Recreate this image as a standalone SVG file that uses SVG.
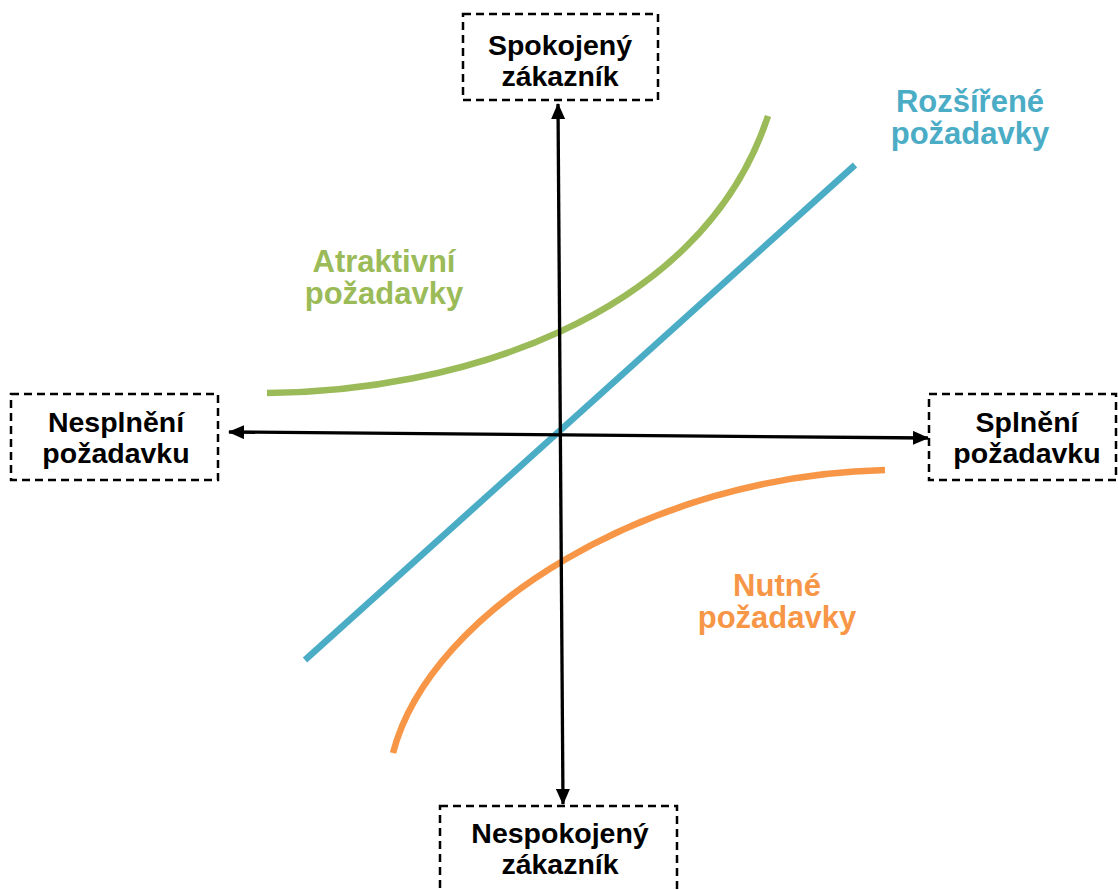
<svg xmlns="http://www.w3.org/2000/svg" width="1118" height="890" viewBox="0 0 1118 890">
<defs>
<style>
.box{fill:none;stroke:#000;stroke-width:2.5;stroke-dasharray:8 5}
.lbl{font-family:"Liberation Sans",Arial,sans-serif;font-weight:bold;font-size:28.5px;fill:#000;text-anchor:middle}
.clbl{font-family:"Liberation Sans",Arial,sans-serif;font-weight:bold;font-size:31px;text-anchor:middle}
.axis{stroke:#000;stroke-width:3.3;fill:none}
.curve{fill:none;stroke-width:6.5}
</style>
<marker id="arr" viewBox="0 0 16 14" refX="15" refY="7" markerWidth="16" markerHeight="14" markerUnits="userSpaceOnUse" orient="auto-start-reverse">
<path d="M0,0 L16,7 L0,14 z" fill="#000"/>
</marker>
</defs>
<rect width="1118" height="890" fill="#fff"/>
<g id="curves">
<path id="rozsirene-line" class="curve" stroke="#4BACC6" d="M305,660 L855,165"/>
<path id="atraktivni-curve" class="curve" stroke="#9BBB59" d="M267,393 C450,392 700,322 768,116"/>
<path id="nutne-curve" class="curve" stroke="#F79646" d="M393,753 C430,610 650,475 885,470"/>
</g>
<g id="connectors">
<line class="axis" x1="558" y1="104" x2="563" y2="804" marker-start="url(#arr)" marker-end="url(#arr)"/>
<line class="axis" x1="229" y1="432" x2="928" y2="438" marker-start="url(#arr)" marker-end="url(#arr)"/>
</g>
<g id="node-spokojeny">
<rect class="box" x="463" y="14" width="195" height="86"/>
<text class="lbl" x="560" y="55">Spokojený</text>
<text class="lbl" x="560" y="86">zákazník</text>
</g>
<g id="node-nesplneni">
<rect class="box" x="11" y="394" width="207" height="86"/>
<text class="lbl" x="116" y="432">Nesplnění</text>
<text class="lbl" x="116" y="463">požadavku</text>
</g>
<g id="node-splneni">
<rect class="box" x="929" y="394" width="187" height="86"/>
<text class="lbl" x="1027" y="432">Splnění</text>
<text class="lbl" x="1027" y="463">požadavku</text>
</g>
<g id="node-nespokojeny">
<rect class="box" x="440" y="806" width="237" height="90"/>
<text class="lbl" x="560" y="843">Nespokojený</text>
<text class="lbl" x="560" y="874">zákazník</text>
</g>
<g id="label-rozsirene">
<text class="clbl" fill="#4BACC6" x="970" y="112">Rozšířené</text>
<text class="clbl" fill="#4BACC6" x="970" y="144">požadavky</text>
</g>
<g id="label-atraktivni">
<text class="clbl" fill="#9BBB59" x="384" y="272">Atraktivní</text>
<text class="clbl" fill="#9BBB59" x="384" y="304">požadavky</text>
</g>
<g id="label-nutne">
<text class="clbl" fill="#F79646" x="777" y="596">Nutné</text>
<text class="clbl" fill="#F79646" x="777" y="628">požadavky</text>
</g>
</svg>
